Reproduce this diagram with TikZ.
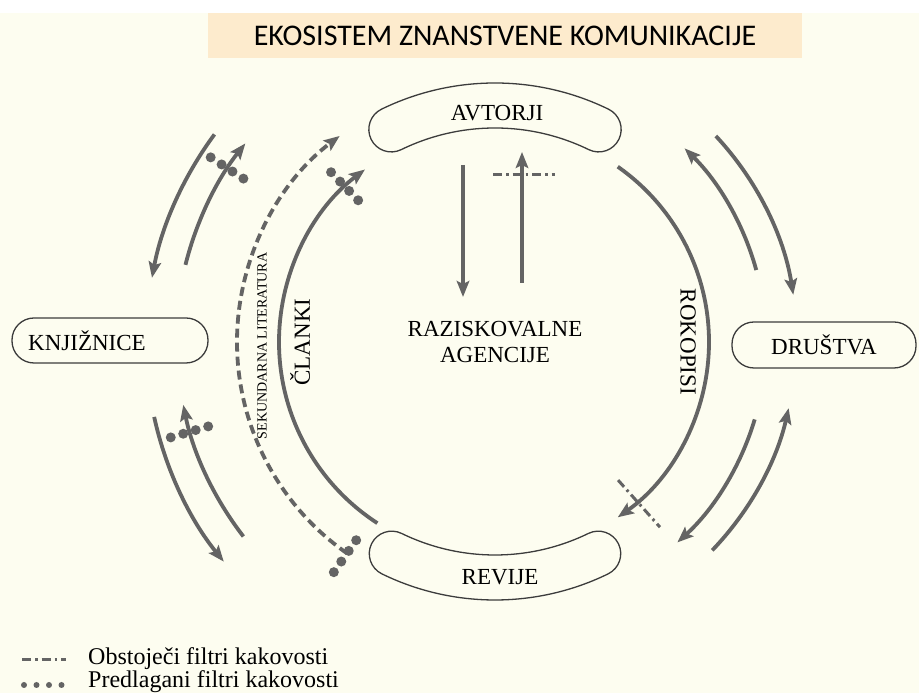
\documentclass[tikz,border=0pt]{standalone}
\usepackage{fontspec}
\setmainfont{Liberation Serif}
\newfontfamily\titlefont{Carlito}
\usetikzlibrary{arrows.meta}

\definecolor{paper}{RGB}{253,253,240}
\definecolor{titlebg}{RGB}{253,235,205}
\definecolor{flowgray}{RGB}{100,100,100}
\definecolor{edgegray}{RGB}{60,60,60}

\tikzset{
  lbl/.style={font=\fontsize{23}{26}\selectfont, inner sep=0pt},
  box/.style={draw=edgegray, line width=1.3pt, rounded corners=22pt, inner sep=0pt},
  shapeline/.style={draw=edgegray, line width=1.3pt, fill=paper},
  flow/.style={draw=flowgray, line width=3.8pt, -{Stealth[length=16pt,width=12.5pt,inset=3pt]}},
  secflow/.style={flow, dash pattern=on 9pt off 5pt},
  dotfilter/.style={draw=flowgray, line width=10pt, line cap=round, dash pattern=on 0pt off 13pt},
  dashfilter/.style={draw=flowgray, line width=3pt, dash pattern=on 9pt off 4pt on 2.5pt off 4pt},
}

\begin{document}
\begin{tikzpicture}[x=1pt,y=1pt]
    \useasboundingbox (0,0) rectangle (919,693);
    \fill[white] (0,0) rectangle (919,693);
    \fill[paper] (0,0) rectangle (919,680);

    % title
    \node[fill=titlebg, minimum width=594pt, minimum height=45pt, inner sep=0pt] (title) at (505,657.5)
        {\titlefont\fontsize{30}{36}\selectfont EKOSISTEM ZNANSTVENE KOMUNIKACIJE};

    \coordinate (c) at (495,351);

    % authors and journals
    \draw[shapeline] ([shift={(c)}]64:214) arc[start angle=64,end angle=116,radius=214]
        arc[start angle=296,end angle=116,radius=22.5]
        arc[start angle=116,end angle=64,radius=259]
        arc[start angle=64,end angle=-116,radius=22.5] -- cycle;
    \node[lbl] (avtorji) at (497,580) {AVTORJI};

    \draw[shapeline] ([shift={(c)}]244:213) arc[start angle=244,end angle=296,radius=213]
        arc[start angle=116,end angle=-64,radius=22.5]
        arc[start angle=296,end angle=244,radius=258]
        arc[start angle=244,end angle=64,radius=22.5] -- cycle;
    \node[lbl] (revije) at (500,116) {REVIJE};

    % libraries and societies
    \node[box, minimum width=196pt, minimum height=45pt] (knjiznice box) at (110,352.5) {};
    \node[lbl] (knjiznice) at (87,352.5) {KNJIŽNICE};
    \node[box, lbl, minimum width=184pt, minimum height=46pt] (drustva) at (824,348) {DRUŠTVA};

    \node[lbl, align=center] (agencije) at (495,351) {RAZISKOVALNE\\AGENCIJE};

    % funding
    \coordinate (fund top) at (463,528);
    \coordinate (fund bottom) at (463,396);
    \coordinate (report bottom) at (522,410);
    \coordinate (report top) at (522,541);
    \draw[flow] (fund top) -- (fund bottom);
    \draw[flow] (report bottom) -- (report top);
    \draw[dashfilter] (493,518) -- (555,518);

    % main circle
    \draw[flow] ([shift={(c)}]237:216) arc[start angle=237,end angle=127,radius=216];
    \draw[flow] ([shift={(c)}]55:214) arc[start angle=55,end angle=-55,radius=214];
    \draw[secflow] ([shift={(c)}]235:258) arc[start angle=235,end angle=127,radius=258];
    \node[lbl, rotate=90] (clanki) at (300,351) {ČLANKI};
    \node[lbl, rotate=-90] (rokopisi) at (688,351) {ROKOPISI};
    \node[font=\fontsize{14}{16}\selectfont, inner sep=0pt, rotate=90] (sekundarna) at (262,347) {SEKUNDARNA LITERATURA};

    \draw[dotfilter] ([shift={(c)}]134:197) -- ([shift={(c)}]134:236.5);
    \draw[dotfilter] ([shift={(c)}]235:242) -- ([shift={(c)}]235:281.5);
    \draw[dashfilter] ([shift={(c)}]-48.3:185) -- ([shift={(c)}]-48.3:248);

    % left side
    \draw[flow] ([shift={(c)}]143.5:349) arc[start angle=143.5,end angle=169.4,radius=349];
    \draw[flow] ([shift={(c)}]166:319) arc[start angle=166,end angle=141.5,radius=319];
    \draw[flow] ([shift={(c)}]192.4:349) arc[start angle=192.4,end angle=219,radius=349];
    \draw[flow] ([shift={(c)}]217.7:318) arc[start angle=217.7,end angle=191.4,radius=318];
    \draw[dotfilter] ([shift={(c)}]147:300) -- ([shift={(c)}]147:339.5);
    \draw[dotfilter] ([shift={(c)}]196.4:299) -- ([shift={(c)}]196.4:338.5);

    % right side
    \draw[flow] ([shift={(c)}]15.4:271) arc[start angle=15.4,end angle=45.6,radius=271];
    \draw[flow] ([shift={(c)}]43:302) arc[start angle=43,end angle=9,radius=302];
    \draw[flow] ([shift={(c)}]-16.6:271) arc[start angle=-16.6,end angle=-47.7,radius=271];
    \draw[flow] ([shift={(c)}]-43.8:301) arc[start angle=-43.8,end angle=-12.7,radius=301];

    % legend
    \draw[dashfilter] (22,33) -- (66,33);
    \node[lbl, font=\fontsize{24}{28}\selectfont, anchor=base west] (legend old) at (88,28) {Obstoječi filtri kakovosti};
    \draw[dotfilter, line width=6pt, dash pattern=on 0pt off 12.5pt] (24,8) -- (61.7,8);
    \node[lbl, font=\fontsize{24}{28}\selectfont, anchor=base west] (legend new) at (88,5) {Predlagani filtri kakovosti};
\end{tikzpicture}
\end{document}
